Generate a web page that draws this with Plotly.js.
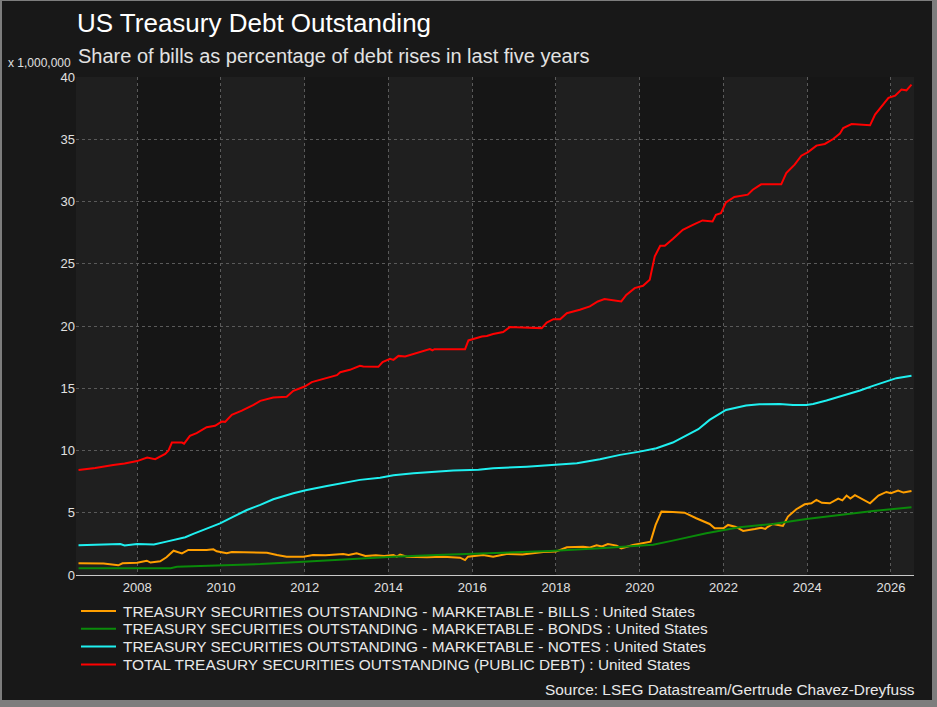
<!DOCTYPE html>
<html>
<head>
<meta charset="utf-8">
<script src="https://cdn.plot.ly/plotly-3.0.1.min.js"></script>
<style>
  html, body { margin: 0; padding: 0; background: #7d7d7d; width: 937px; height: 707px; overflow: hidden; }
  #chart { position: absolute; left: 2px; top: 1px; width: 930px; height: 699px; }
</style>
</head>
<body>
<div id="chart"></div>
<script>
// US Treasury securities outstanding, trillions of dollars (x 1,000,000 millions)
const billsYears = [2006.6, 2006.85, 2007.0, 2007.2, 2007.55, 2007.65, 2008.0, 2008.23, 2008.32, 2008.55, 2008.7, 2008.87, 2009.07, 2009.22, 2009.66, 2009.82, 2009.9, 2010.14, 2010.26, 2011.1, 2011.34, 2011.57, 2011.97, 2012.2, 2012.5, 2012.92, 2013.05, 2013.24, 2013.45, 2013.7, 2013.9, 2014.12, 2014.2, 2014.28, 2014.44, 2014.92, 2015.31, 2015.71, 2015.83, 2015.9, 2016.26, 2016.5, 2016.82, 2017.2, 2017.7, 2018.0, 2018.26, 2018.65, 2018.8, 2018.97, 2019.1, 2019.24, 2019.45, 2019.56, 2019.84, 2020.16, 2020.26, 2020.38, 2020.52, 2020.79, 2021.07, 2021.35, 2021.67, 2021.79, 2022.0, 2022.11, 2022.3, 2022.47, 2022.55, 2022.75, 2022.9, 2023.0, 2023.05, 2023.18, 2023.42, 2023.54, 2023.74, 2023.94, 2024.1, 2024.22, 2024.35, 2024.54, 2024.74, 2024.84, 2024.94, 2025.03, 2025.14, 2025.3, 2025.5, 2025.7, 2025.89, 2026.0, 2026.17, 2026.3, 2026.49];
const billsValues = [0.94, 0.95, 0.9, 0.92, 0.78, 0.94, 0.99, 1.15, 1.0, 1.1, 1.42, 1.95, 1.74, 2.01, 2.01, 2.06, 1.9, 1.74, 1.84, 1.79, 1.6, 1.47, 1.47, 1.61, 1.58, 1.69, 1.6, 1.74, 1.53, 1.58, 1.53, 1.6, 1.47, 1.64, 1.47, 1.42, 1.47, 1.39, 1.2, 1.47, 1.61, 1.47, 1.69, 1.65, 1.85, 1.88, 2.23, 2.26, 2.2, 2.39, 2.3, 2.49, 2.36, 2.14, 2.41, 2.6, 2.68, 4.02, 5.09, 5.06, 5.01, 4.56, 4.1, 3.75, 3.75, 4.02, 3.86, 3.54, 3.6, 3.7, 3.8, 3.7, 3.85, 4.1, 3.94, 4.69, 5.28, 5.68, 5.76, 6.03, 5.8, 5.76, 6.14, 6.0, 6.38, 6.14, 6.41, 6.12, 5.76, 6.38, 6.67, 6.57, 6.78, 6.62, 6.75];

const bondsYears = [2006.6, 2008.8, 2008.95, 2009.98, 2010.94, 2011.97, 2012.92, 2014.12, 2015.15, 2016.18, 2017.0, 2017.86, 2019.05, 2020.0, 2020.32, 2020.79, 2021.59, 2022.38, 2023.18, 2023.98, 2024.78, 2025.57, 2026.49];
const bondsValues = [0.54, 0.55, 0.67, 0.75, 0.88, 1.07, 1.26, 1.47, 1.61, 1.74, 1.82, 1.93, 2.14, 2.38, 2.43, 2.76, 3.35, 3.83, 4.1, 4.5, 4.82, 5.14, 5.44];

const notesYears = [2006.6, 2007.0, 2007.4, 2007.6, 2007.7, 2008.0, 2008.3, 2008.4, 2008.7, 2008.9, 2009.15, 2009.34, 2009.58, 2009.82, 2009.98, 2010.3, 2010.62, 2010.94, 2011.25, 2011.73, 2012.05, 2012.53, 2013.0, 2013.32, 2013.8, 2014.12, 2014.6, 2015.07, 2015.55, 2016.15, 2016.5, 2017.3, 2018.0, 2018.5, 2019.05, 2019.53, 2020.0, 2020.4, 2020.79, 2021.2, 2021.4, 2021.67, 2022.06, 2022.54, 2022.86, 2023.34, 2023.66, 2023.98, 2024.14, 2024.46, 2024.86, 2025.26, 2025.57, 2025.89, 2026.13, 2026.49];
const notesValues = [2.39, 2.4, 2.47, 2.49, 2.38, 2.49, 2.5, 2.45, 2.68, 2.81, 3.03, 3.3, 3.62, 3.94, 4.15, 4.69, 5.22, 5.63, 6.08, 6.56, 6.83, 7.15, 7.45, 7.64, 7.82, 8.01, 8.17, 8.3, 8.39, 8.45, 8.57, 8.7, 8.84, 8.97, 9.3, 9.65, 9.91, 10.18, 10.64, 11.35, 11.71, 12.46, 13.26, 13.61, 13.72, 13.74, 13.66, 13.66, 13.74, 14.01, 14.39, 14.82, 15.19, 15.54, 15.81, 16.0];

const totalYears = [2006.6, 2007.0, 2007.43, 2007.7, 2008.0, 2008.24, 2008.43, 2008.67, 2008.75, 2008.83, 2009.07, 2009.12, 2009.26, 2009.42, 2009.66, 2009.86, 2010.02, 2010.1, 2010.26, 2010.5, 2010.78, 2010.94, 2011.25, 2011.57, 2011.73, 2012.0, 2012.17, 2012.53, 2012.77, 2012.85, 2013.08, 2013.32, 2013.4, 2013.76, 2013.86, 2014.04, 2014.12, 2014.24, 2014.4, 2014.99, 2015.05, 2015.1, 2015.83, 2015.91, 2016.23, 2016.35, 2016.5, 2016.74, 2016.9, 2017.2, 2017.66, 2017.78, 2017.94, 2018.1, 2018.26, 2018.57, 2018.81, 2019.0, 2019.16, 2019.56, 2019.68, 2019.88, 2020.08, 2020.24, 2020.36, 2020.49, 2020.6, 2020.79, 2021.03, 2021.27, 2021.5, 2021.74, 2021.82, 2021.94, 2022.06, 2022.26, 2022.58, 2022.7, 2022.9, 2023.38, 2023.5, 2023.7, 2023.86, 2024.02, 2024.22, 2024.42, 2024.62, 2024.78, 2024.86, 2025.06, 2025.5, 2025.62, 2025.94, 2026.1, 2026.25, 2026.37, 2026.49];
const totalValues = [8.44, 8.6, 8.84, 8.95, 9.15, 9.43, 9.3, 9.72, 10.0, 10.64, 10.64, 10.55, 11.17, 11.39, 11.87, 11.98, 12.32, 12.3, 12.86, 13.2, 13.67, 13.99, 14.25, 14.32, 14.79, 15.14, 15.49, 15.86, 16.05, 16.29, 16.48, 16.8, 16.75, 16.72, 17.1, 17.36, 17.28, 17.6, 17.55, 18.14, 18.05, 18.14, 18.14, 18.84, 19.16, 19.2, 19.35, 19.51, 19.91, 19.88, 19.83, 20.28, 20.55, 20.55, 21.03, 21.3, 21.57, 21.97, 22.16, 21.97, 22.5, 23.04, 23.23, 23.71, 25.59, 26.45, 26.45, 26.98, 27.73, 28.13, 28.48, 28.4, 28.94, 29.07, 29.93, 30.36, 30.55, 30.95, 31.38, 31.38, 32.29, 32.96, 33.68, 33.97, 34.49, 34.62, 35.02, 35.45, 35.9, 36.22, 36.12, 36.98, 38.32, 38.5, 39.0, 38.93, 39.39];

const seriesNames = [
  'TREASURY SECURITIES OUTSTANDING - MARKETABLE - BILLS : United States',
  'TREASURY SECURITIES OUTSTANDING - MARKETABLE - BONDS : United States',
  'TREASURY SECURITIES OUTSTANDING - MARKETABLE - NOTES : United States',
  'TOTAL TREASURY SECURITIES OUTSTANDING (PUBLIC DEBT) : United States'
];
const tickYears = [2008, 2010, 2012, 2014, 2016, 2018, 2020, 2022, 2024, 2026];
const yTicks = [0, 5, 10, 15, 20, 25, 30, 35, 40];

// ---- styling ----
const seriesColors = ['#ff9f00', '#0a8a0a', '#1ff0f0', '#ff0000'];
const X_RANGE = [2006.54, 2026.55];
const Y_RANGE = [0, 40];

// page-pixel helpers for placing annotations relative to the plot area
const PLOT_L = 76, PLOT_R = 914, PLOT_T = 77, PLOT_B = 575;
const px = v => (v - PLOT_L) / (PLOT_R - PLOT_L);
const py = v => (PLOT_B - v) / (PLOT_B - PLOT_T);

const xs = [billsYears, bondsYears, notesYears, totalYears];
const ys = [billsValues, bondsValues, notesValues, totalValues];
const traces = seriesNames.map((name, i) => ({
  type: 'scatter', mode: 'lines', name: name,
  x: xs[i], y: ys[i],
  line: { color: seriesColors[i], width: 2 },
  hoverinfo: 'skip'
}));

// alternating two-year shaded bands behind the plot
const shapes = [];
for (let y = 2006; y <= 2026; y += 4) {
  const x0 = Math.max(y, X_RANGE[0]), x1 = Math.min(y + 2, X_RANGE[1]);
  shapes.push({ type: 'rect', xref: 'x', yref: 'paper', x0: x0, x1: x1, y0: 0, y1: 1,
    fillcolor: '#1f1f1f', line: { width: 0 }, layer: 'below' });
}

// legend keys
const legendRows = [611, 628.8, 646.6, 664.4];
const annotations = [];
seriesNames.forEach((name, i) => {
  shapes.push({ type: 'line', xref: 'paper', yref: 'paper',
    x0: px(81), x1: px(116), y0: py(legendRows[i]), y1: py(legendRows[i]),
    line: { color: seriesColors[i], width: 2 } });
  annotations.push({ xref: 'paper', yref: 'paper', x: px(121), y: py(legendRows[i]),
    xanchor: 'left', yanchor: 'middle', showarrow: false, text: name,
    font: { size: 15.4, color: '#e8e8e8' } });
});

annotations.push(
  { xref: 'paper', yref: 'paper', x: px(76), y: py(56), xanchor: 'left', yanchor: 'middle',
    showarrow: false, text: 'Share of bills as percentage of debt rises in last five years',
    font: { size: 20, color: '#e2e2e2' } },
  { xref: 'paper', yref: 'paper', x: px(73), y: py(63), xanchor: 'right', yanchor: 'middle',
    showarrow: false, text: 'x 1,000,000', font: { size: 12, color: '#e0e0e0' } },
  { xref: 'paper', yref: 'paper', x: px(917), y: py(689), xanchor: 'right', yanchor: 'middle',
    showarrow: false, text: 'Source: LSEG Datastream/Gertrude Chavez-Dreyfuss',
    font: { size: 15.4, color: '#e8e8e8' } }
);

const layout = {
  width: 930, height: 699,
  margin: { l: PLOT_L - 2, r: 932 - PLOT_R, t: PLOT_T - 1, b: 700 - PLOT_B, pad: 0 },
  paper_bgcolor: '#181818',
  plot_bgcolor: '#161616',
  font: { family: '"Liberation Sans", Arial, sans-serif', color: '#e0e0e0', size: 13 },
  showlegend: false,
  title: {
    text: 'US Treasury Debt Outstanding',
    font: { size: 26, color: '#ffffff' },
    xref: 'paper', x: px(77), xanchor: 'left',
    yref: 'container', y: 1 - 22 / 699, yanchor: 'middle'
  },
  xaxis: {
    range: X_RANGE, tickvals: tickYears, ticktext: tickYears.map(String),
    showgrid: true, gridcolor: '#5a5a5a', griddash: 'dot', gridwidth: 1,
    showline: true, linecolor: '#c8c8c8', linewidth: 1, zeroline: false,
    ticks: '', tickfont: { size: 13, color: '#e0e0e0' }, fixedrange: true
  },
  yaxis: {
    range: Y_RANGE, tickvals: yTicks, ticktext: yTicks.map(String),
    showgrid: true, gridcolor: '#5a5a5a', griddash: 'dot', gridwidth: 1,
    showline: false, zeroline: false, ticks: '',
    tickfont: { size: 13, color: '#e0e0e0' }, fixedrange: true
  },
  shapes: shapes,
  annotations: annotations
};

Plotly.newPlot('chart', traces, layout, { staticPlot: true, displayModeBar: false });
</script>
</body>
</html>
